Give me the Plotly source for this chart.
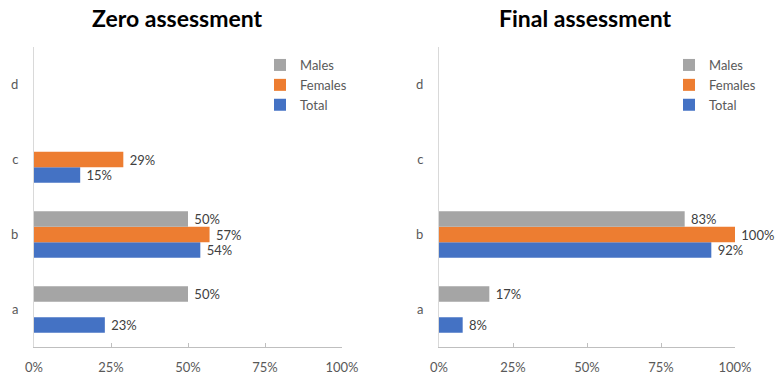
import plotly.graph_objects as go

categories = ["a", "b", "c", "d"]
series_names = ["Total", "Females", "Males"]
colors = {"Males": "#A5A5A5", "Females": "#ED7D31", "Total": "#4472C4"}

zero_males = [50, 50, None, None]
zero_females = [None, 57, 29, None]
zero_total = [23, 54, 15, None]

final_males = [17, 83, None, None]
final_females = [None, 100, None, None]
final_total = [8, 92, None, None]

x_ticks = [0, 25, 50, 75, 100]
x_tick_labels = ["0%", "25%", "50%", "75%", "100%"]

W, H = 775, 379
FONT = "Lato"

zero = {"Total": zero_total, "Females": zero_females, "Males": zero_males}
final = {"Total": final_total, "Females": final_females, "Males": final_males}

fig = go.Figure()

def add_panel(data, xa, ya, legend_name):
    for name in series_names:
        vals = data[name]
        fig.add_trace(go.Bar(
            y=categories, x=vals, name=name, orientation="h",
            marker=dict(color=colors[name], line=dict(width=0)),
            text=[("" if v is None else f"\u00a0{v}%") for v in vals],
            textposition="outside", cliponaxis=False,
            textfont=dict(family=FONT, size=13, color="#404040"),
            constraintext="none",
            xaxis=xa, yaxis=ya, legend=legend_name,
            hoverinfo="skip",
        ))

add_panel(zero, "x", "y", "legend")
add_panel(final, "x2", "y2", "legend2")

def px_x(p):
    return p / W

def px_y(p):
    return 1 - p / H

ydom = [px_y(347), px_y(47)]

xcommon = dict(
    range=[0, 100], tickvals=x_ticks, ticktext=x_tick_labels,
    showgrid=False, zeroline=False, showline=True, linecolor="#BFBFBF", linewidth=1,
    ticks="inside", ticklen=4, tickcolor="#BFBFBF",
    tickfont=dict(family=FONT, size=13, color="#595959"),
    ticklabelstandoff=8, fixedrange=True, automargin=False,
)
ycommon = dict(
    type="category", categoryorder="array", categoryarray=categories,
    range=[-0.5, 3.5], showgrid=False, zeroline=False,
    showline=True, linecolor="#D9D9D9", linewidth=1, ticks="",
    tickfont=dict(family=FONT, size=13, color="#595959"),
    ticklabelstandoff=12, fixedrange=True, automargin=False,
)

legcommon = dict(
    traceorder="reversed", font=dict(family=FONT, size=13, color="#595959"),
    bgcolor="rgba(0,0,0,0)", yanchor="top", xanchor="left",
    tracegroupgap=0, itemwidth=30,
)

fig.update_layout(
    width=W, height=H, margin=dict(l=0, r=0, t=0, b=0, autoexpand=False),
    paper_bgcolor="white", plot_bgcolor="white",
    barmode="group", bargap=0.38, bargroupgap=0,
    showlegend=True,
    xaxis=dict(domain=[px_x(34), px_x(342)], anchor="y", **xcommon),
    yaxis=dict(domain=ydom, anchor="x", **ycommon),
    xaxis2=dict(domain=[px_x(439), px_x(735)], anchor="y2", **xcommon),
    yaxis2=dict(domain=ydom, anchor="x2", **ycommon),
    legend=dict(x=px_x(260), y=px_y(50), **legcommon),
    legend2=dict(x=px_x(669), y=px_y(50), **legcommon),
    annotations=[
        dict(text="<b>Zero assessment</b>", x=px_x(177), y=px_y(18), xref="paper", yref="paper",
             xanchor="center", yanchor="middle",
             showarrow=False, font=dict(family=FONT, size=23, color="#000000")),
        dict(text="<b>Final assessment</b>", x=px_x(585), y=px_y(18), xref="paper", yref="paper",
             xanchor="center", yanchor="middle",
             showarrow=False, font=dict(family=FONT, size=23, color="#000000")),
    ],
)

fig.write_html("out.html")
